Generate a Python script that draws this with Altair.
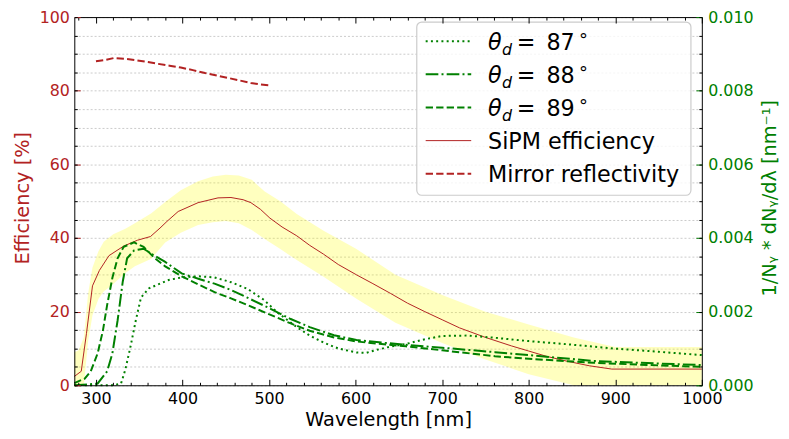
import altair as alt
import pandas as pd

W, H = 634, 372
TOP = 7            # plot top sits at page y = 8 + TOP
DY = 8 + TOP       # page-y of plot top
RED = "#b22222"
GREEN = "#008000"
FONT = "DejaVu Sans"

# ---------------- data ----------------
sipm_wl = [275, 283, 289, 296, 304, 315, 332, 348, 363, 374, 382, 395, 418, 441, 456, 470,
           479, 490, 501, 515, 532, 547, 563, 580, 601, 620, 640, 660, 680, 700, 720, 750,
           780, 800, 820, 845, 870, 896, 1000]
sipm_eff = [2.4, 3.8, 14.0, 27.0, 31.2, 35.2, 37.8, 39.4, 40.4, 42.7, 44.5, 47.2, 49.6, 50.9,
            51.0, 50.4, 49.6, 47.8, 45.4, 43.0, 40.6, 38.0, 35.6, 32.8, 30.0, 27.6, 25.0,
            22.3, 20.0, 17.8, 15.6, 13.0, 10.7, 9.3, 7.9, 6.5, 5.3, 4.4, 4.4]

band_wl = [275, 280, 286, 291, 296, 303, 309, 320, 334, 345, 364, 380, 398, 418, 435, 450,
           465, 480, 495, 513, 532, 563, 601, 646, 700, 750, 800, 852, 900, 1000]
band_hi = [9, 9.5, 13, 25, 32, 36.5, 39, 41, 42.5, 44, 46.7, 49.8, 53, 55.4, 56.7, 57.2,
           57, 55.8, 52.6, 50, 46.5, 42, 37, 30, 24.5, 20, 16.5, 13, 10.4, 10.4]
band_lo = [0, 0, 0, 12, 19, 23.5, 25.5, 27.5, 30.5, 32.3, 34.4, 38.8, 41.4, 43.5, 44.3, 44.6,
           44, 42.2, 39.7, 37, 34, 29.5, 23.5, 17, 11.5, 7, 3, 0, 0, 0]

mirror_wl = [300, 310, 321, 333, 345, 360, 372, 385, 398, 412, 426, 440, 452, 466, 479, 490, 500]
mirror_ref = [88.0, 88.3, 88.9, 88.7, 88.3, 87.8, 87.3, 86.8, 86.3, 85.6, 84.8, 84.1, 83.5,
              82.8, 82.1, 81.7, 81.5]

# photon spectra, 1/N dN/dlambda [nm^-1]
th87_wl = [275, 320, 329, 334, 340, 346, 352, 361, 371, 384, 399, 418, 437, 456, 475, 494,
           510, 532, 547, 563, 580, 601, 612, 624, 640, 658, 680, 700, 730, 761, 800, 837,
           898, 950, 1000]
th87 = [0.0, 0.0, 0.00005, 0.00043, 0.00106, 0.00176, 0.00238, 0.00263, 0.00273, 0.00286,
        0.00293, 0.00296, 0.00293, 0.00280, 0.00262, 0.00232, 0.00197, 0.00158, 0.00135,
        0.00116, 0.00100, 0.00089, 0.00088, 0.00096, 0.00105, 0.00112, 0.00125, 0.00134,
        0.00135, 0.00129, 0.00120, 0.00113, 0.00100, 0.00091, 0.00082]

th88_wl = [275, 290, 302, 313, 319, 325, 331, 336, 344, 355, 367, 380, 399, 420, 437, 456,
           475, 498, 525, 547, 575, 601, 630, 658, 700, 761, 800, 875, 950, 1000]
th88 = [0.0, 0.00002, 0.00005, 0.00038, 0.00087, 0.00176, 0.00282, 0.00345, 0.00366,
        0.00371, 0.00353, 0.00335, 0.00304, 0.00288, 0.00276, 0.00259, 0.00238, 0.00212,
        0.00180, 0.00158, 0.00136, 0.00123, 0.00116, 0.00110, 0.00102, 0.00090, 0.00082,
        0.00066, 0.00059, 0.00055]

th89_wl = [275, 287, 294, 302, 308, 313, 319, 325, 332, 344, 355, 368, 380, 399, 420, 437,
           456, 475, 498, 525, 547, 575, 601, 630, 658, 700, 761, 800, 875, 950, 1000]
th89 = [0.00006, 0.00018, 0.00038, 0.00087, 0.00148, 0.00219, 0.00292, 0.00345, 0.00376,
        0.00388, 0.00376, 0.00345, 0.00323, 0.00296, 0.00272, 0.00253, 0.00236, 0.00218,
        0.00195, 0.00168, 0.00148, 0.00130, 0.00119, 0.00112, 0.00106, 0.00095, 0.00079,
        0.00072, 0.00061, 0.00054, 0.00050]

legend_labels = ["87", "88", "89", "SiPM efficiency", "Mirror reflectivity"]

# ---------------- tables ----------------
df_sipm = pd.DataFrame({"wl": sipm_wl, "v": sipm_eff})
df_band = pd.DataFrame({"wl": band_wl, "lo": band_lo, "hi": band_hi})
df_mirror = pd.DataFrame({"wl": mirror_wl, "v": mirror_ref})
df87 = pd.DataFrame({"wl": th87_wl, "v": th87})
df88 = pd.DataFrame({"wl": th88_wl, "v": th88})
df89 = pd.DataFrame({"wl": th89_wl, "v": th89})

xs = alt.Scale(domain=[275, 1000], nice=False, zero=False)
yL = alt.Scale(domain=[0, 100], nice=False, zero=False)
yR = alt.Scale(domain=[0, 0.01], nice=False, zero=False)

major_x = list(range(300, 1001, 100))
minor_x = [v for v in range(280, 1001, 20) if v % 100 != 0]
major_l = list(range(0, 101, 20))
minor_l = list(range(0, 101, 5))
major_r = [0, 0.002, 0.004, 0.006, 0.008, 0.01]
minor_r = [round(i * 0.0005, 4) for i in range(21)]

TITLE_Y = 197.5 - DY


def tick_axis(orient, offset, values, size, color="black", domain=False):
    return alt.Axis(orient=orient, offset=offset, values=values, ticks=True, tickSize=size,
                    tickColor=color, tickWidth=1, labels=False, domain=domain,
                    domainColor="black", domainWidth=1, grid=False, title=None, zindex=1)


ax_x_labels = alt.Axis(orient="bottom", values=major_x, format="d", ticks=False, tickSize=0,
                       labelFontSize=16, labelColor="black", labelPadding=5,
                       labelFlush=False, labelOverlap=False, domain=True,
                       domainColor="black", domainWidth=1, grid=False,
                       title="Wavelength [nm]", titleFontSize=19.5, titleFontWeight="normal",
                       titleColor="black", titleX=W / 2, titleY=41, titleAlign="center",
                       titleBaseline="alphabetic", zindex=1)

ax_l_labels = alt.Axis(orient="left", values=minor_l,
                       labelExpr="datum.value % 20 == 0 ? datum.label : ''",
                       ticks=False, tickSize=0, labelFontSize=16, labelColor=RED,
                       labelPadding=5, labelOverlap=False, domain=False, grid=True,
                       gridColor="#bdbdbd", gridDash=[2, 2], gridWidth=0.8,
                       title="Efficiency [%]", titleColor=RED, titleFontSize=19.5,
                       titleFontWeight="normal", titleX=-52, titleY=TITLE_Y, titleAngle=270,
                       titleAlign="center", titleBaseline="middle", zindex=0)

ax_r_labels = alt.Axis(orient="right", values=major_r, format=".3f", ticks=False, tickSize=0,
                       labelFontSize=16, labelColor=GREEN, labelPadding=6,
                       labelOverlap=False, domain=True, domainColor="black", domainWidth=1,
                       grid=False, title="1/Nᵧ * dNᵧ/dλ [nm⁻¹]", titleColor=GREEN,
                       titleFontSize=19.5, titleFontWeight="normal", titleX=68,
                       titleY=TITLE_Y, titleAngle=270, titleAlign="center",
                       titleBaseline="middle", zindex=1)

band = alt.Chart(df_band).mark_area(color="yellow", opacity=0.25).encode(
    x=alt.X("wl:Q", scale=xs, axis=ax_x_labels),
    y=alt.Y("hi:Q", scale=yL, axis=ax_l_labels),
    y2="lo:Q",
)

sipm = alt.Chart(df_sipm).mark_line(color=RED, strokeWidth=1).encode(
    x=alt.X("wl:Q", scale=xs, axis=tick_axis("top", -H, major_x, 6)),
    y=alt.Y("v:Q", scale=yL, axis=tick_axis("right", -W, major_l, 6, RED, domain=True)),
)

mirror = alt.Chart(df_mirror).mark_line(color=RED, strokeWidth=2,
                                        strokeDash=[7.4, 3.2]).encode(
    x=alt.X("wl:Q", scale=xs, axis=tick_axis("top", -H, minor_x, 3)),
    y=alt.Y("v:Q", scale=yL, axis=tick_axis("right", -W, minor_l, 3)),
)

g87 = alt.Chart(df87).mark_line(color=GREEN, strokeWidth=2, strokeDash=[2, 3.3]).encode(
    x=alt.X("wl:Q", scale=xs, axis=tick_axis("bottom", -H, major_x, 6, domain=True)),
    y=alt.Y("v:Q", scale=yR, axis=ax_r_labels),
)

g88 = alt.Chart(df88).mark_line(color=GREEN, strokeWidth=2,
                                strokeDash=[12.8, 3.2, 2, 3.2]).encode(
    x=alt.X("wl:Q", scale=xs, axis=tick_axis("bottom", -H, minor_x, 3)),
    y=alt.Y("v:Q", scale=yR, axis=tick_axis("left", -W, major_r, 6, GREEN)),
)

g89 = alt.Chart(df89).mark_line(color=GREEN, strokeWidth=2, strokeDash=[7.4, 3.2]).encode(
    x=alt.X("wl:Q", scale=xs, axis=None),
    y=alt.Y("v:Q", scale=yR, axis=tick_axis("left", -W, minor_r, 3)),
)

# ---------------- legend ----------------
one = pd.DataFrame({"k": [0]})
LX0, LX1 = 355, 401
TX = 418
row_y = [39.3 - DY, 72.8 - DY, 106.3 - DY, 139.8 - DY, 173.3 - DY]
FS = 22.5

legend_layers = [
    alt.Chart(one).mark_rect(fill="white", fillOpacity=0.8, stroke="#cccccc",
                             strokeWidth=1.2, cornerRadius=5).encode(
        x=alt.value(346), x2=alt.value(623), y=alt.value(20 - DY), y2=alt.value(195 - DY))
]

styles = [
    dict(color=GREEN, strokeWidth=2, strokeDash=[2, 3.3]),
    dict(color=GREEN, strokeWidth=2, strokeDash=[12.8, 3.2, 2, 3.2]),
    dict(color=GREEN, strokeWidth=2, strokeDash=[7.4, 3.2]),
    dict(color=RED, strokeWidth=1),
    dict(color=RED, strokeWidth=2, strokeDash=[7.4, 3.2]),
]


def txt(s, x, y, size=FS, style="normal"):
    return alt.Chart(one).mark_text(text=s, font=FONT, fontSize=size, fontStyle=style,
                                    color="black", align="left",
                                    baseline="alphabetic").encode(
        x=alt.value(x), y=alt.value(y))


for i, (lab, st) in enumerate(zip(legend_labels, styles)):
    y0 = row_y[i]
    base = y0 + 8.5
    legend_layers.append(
        alt.Chart(one).mark_rule(**st).encode(
            x=alt.value(LX0), x2=alt.value(LX1), y=alt.value(y0)))
    if i < 3:
        legend_layers += [
            txt("θ", TX, base, style="italic"),
            txt("d", TX + 14, base + 5, size=16, style="italic"),
            txt("=", TX + 29, base),
            txt(lab, TX + 59, base),
            txt("°", TX + 92, base - 4, size=18),
        ]
    else:
        legend_layers.append(txt(lab, TX, base))

chart = alt.layer(band, sipm, mirror, g87, g88, g89, *legend_layers).resolve_scale(
    y="independent"
).resolve_axis(
    x="independent", y="independent"
).properties(
    width=W, height=H,
    autosize=alt.AutoSizeParams(type="none"),
    padding={"left": 67, "top": TOP, "right": 80, "bottom": 44},
    background="white",
).configure_axis(
    labelFont=FONT, titleFont=FONT
).configure_view(
    stroke="transparent"
)

chart.save("out.html", embed_options={"renderer": "svg", "actions": False})
